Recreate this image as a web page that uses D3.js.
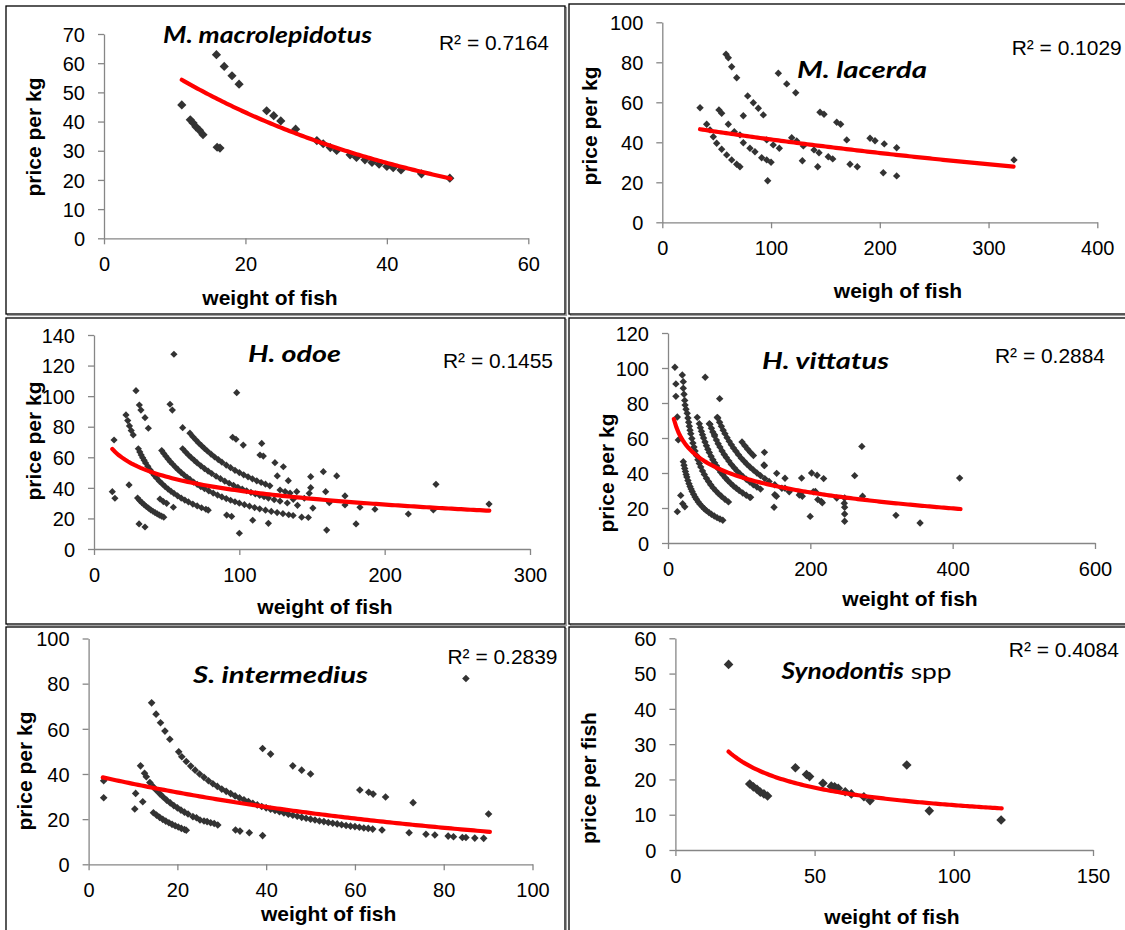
<!DOCTYPE html>
<html><head><meta charset="utf-8">
<script src="https://cdn.jsdelivr.net/npm/d3@7"></script>
<style>body{margin:0;background:#fff}svg{display:block}</style>
</head><body><svg id="chart" width="1125" height="930"></svg>
<script>
// ---------------- DATA ----------------
const macrolepidotusData = [[11.0,45.7],[12.2,40.6],[12.6,39.5],[13.0,38.2],[13.5,37.0],[14.0,35.5],[15.9,62.9],[16.0,31.2],[16.4,30.9],[17.0,58.9],[18.1,55.7],[19.1,52.8],[23.0,43.7],[24.0,42.0],[25.0,40.2],[27.1,37.4],[30.1,33.5],[31.0,32.4],[32.0,31.1],[32.9,30.1],[34.8,28.6],[35.7,27.7],[36.9,26.9],[37.9,26.0],[38.9,25.4],[40.0,24.6],[40.9,24.2],[42.0,23.4],[44.9,22.1],[48.9,20.6]];
const macrolepidotusTrend = {type:"exp", a:72.0, b:-0.02563, x0:11, x1:49};

const lacerdaData = [[34.7,57.3],[40.8,49],[43.9,46.2],[46.9,42.8],[50,39.5],[54.6,36.5],[59.2,33.7],[63.8,31.2],[68.4,29],[71.4,27.8],[52.1,56.2],[54.6,54.5],[58.6,84],[60.7,82.3],[63.8,77.8],[68.4,72.3],[60.7,49],[66.2,45.3],[71.4,43.7],[74.5,39.8],[80.6,37],[85.2,35.3],[74.5,53.3],[78.5,63.2],[83.7,59.8],[88.3,57],[92.9,53.7],[91.4,32.3],[96,31.2],[100,30],[96,41.2],[102,38.7],[107.6,37],[96.9,20.8],[106.7,74.5],[114.4,69.2],[122.7,64.8],[119,42.3],[123.6,40.7],[129.7,38.2],[128.8,30.8],[139.5,36.2],[144.1,34.8],[142.9,27.8],[145,55],[148.7,54],[152.6,32.8],[156.7,31.7],[160.4,50],[164,49],[169.6,41.2],[172.6,29],[179.3,27.8],[191,42],[195.6,40.8],[204.1,39.2],[203.2,24.8],[215.5,37.3],[215.5,23.2],[323.4,31.2]];
const lacerdaTrend = {type:"exp", a:49.5, b:-0.001782, x0:34.7, x1:323};

const odoeData = [[13.8,71.3],[12.6,37.5],[14.4,33.2],[24.1,41.9],[28.9,103.6],[55.0,127.4],[98.2,102.3],[31.0,16.4],[35.1,14.4],
[45.4,32.7],[47.7,31.0],[50.0,29.9],[54.6,27.3],
[30,33.3],[31.5,31.7],[33,30.3],[34.5,29.0],[36,27.8],[37.5,26.7],[39,25.6],[40.5,24.7],[42,23.8],[43.5,23.0],[45,22.2],[46.5,21.5],[48,20.8],
[22.0,87.7],[23.2,84.0],[24.4,80.5],[25.6,77.5],[27.0,74.6],
[30.5,65.6],[31.5,63.5],[32.5,61.5],[33.5,59.7],[34.5,58.0],[35.5,56.3],[37,54.1],[38.5,51.9],[40,50.0],[41.5,48.2],[43,46.5],[45,44.4],[47,42.6],[49,40.8],[51,39.2],[53,37.7],[55,36.4],[57.5,34.8],[60,33.3],[62.5,32.0],[65,30.8],[68,29.4],[71,28.2],[74,27.0],[77,26.0],[78.6,25.4],
[91.3,22.2],[94.7,21.3],[109.2,18.8],[120,16.8],
[31.2,94.2],[32.3,90.9],[35.1,85.9],[37.4,79.0],
[46.6,64.4],[48,62.5],[49.5,60.6],[51,58.8],[52.5,57.1],[54,55.6],[56,53.6],[58,51.7],[60,50.0],[62,48.4],[64,46.9],[66,45.5],[68.5,43.8],[71,42.3],[73.5,40.8],[76,39.5],[79,38.0],[82,36.6],[85,35.3],[88,34.1],[91,33.0],[94,31.9],[97,30.9],[100,30.0],[103.5,29.0],[107,28.0],[110.5,27.1],[114,26.3],[118,25.4],[122,24.6],[126,23.8],[130,23.1],[134,22.4],[137,21.9],
[142.9,20.8],[147.5,20.6],
[61,65.6],[63,63.5],[65,61.5],[67,59.7],[69,58.0],[71,56.3],[73.5,54.4],[76,52.6],[78.5,51.0],[81,49.4],[84,47.6],[87,46.0],[90,44.4],[93,43.0],[96,41.7],[99,40.4],[102,39.2],[105,38.1],[108,37.0],[111,36.0],[114,35.1],[117,34.2],[120,33.3],[124,32.3],[128,31.3],[133,30.1],[140,28.6],[150.6,26.8],
[52.3,94.7],[53.9,90.9],[61,79.4],
[66,75.8],[68,73.5],[70,71.4],[72,69.4],[74,67.6],[76,65.8],[78,64.1],[80.5,62.1],[83,60.2],[85.5,58.5],[88,56.8],[91,54.9],[94,53.2],[97,51.5],[100,50.0],[103,48.5],[106,47.2],[109,45.9],[112,44.6],[115,43.5],[118,42.4],[121,41.3],[128,38.6],[131.5,37.6],[134.9,36.6],
[95.4,73.1],[97.7,71.8],[102.7,68.0],[114.2,61.5],[116.5,60.8],[124.5,56.5],[130.3,53.8],
[115.4,69.1],[126.1,47.8],[133.7,44.7],[149.1,47.3],[149.1,40.1],[148.1,36.4],[139.5,37.5],[137.1,32.5],[144.7,33.2],[157.8,50.6],[159.4,37.5],[160.1,12.4],[161.9,30.3],[167,47.8],[172.7,34.7],[172.7,28.8],[180.3,16.4],[183,27.3],[193.3,26.0],[216.3,22.9],[233.5,25.5],[235.3,42.3],[271.8,29.4],[100,10.3]];
const odoeTrend = {type:"log", a:98.6, b:-13.12, x0:12.6, x1:272};

const vittatusData = [[9.7,100.4],[11.1,90.9],[11.1,83.8],[13.1,72.0],[14.5,58.9],[13.1,17.9],[17.9,27.2],[20.6,22.5],[23.6,20.7],
[20.1,96.0],[21.5,92.2],[21.5,88.4],[22.5,85.0],[23.5,81.5],[24,78.8],[25.3,76.4],
[52.3,94.7],[41.1,71.8],[72.6,82.5],[69.2,71.8],[58.1,68.2],[65.3,61.9],
[21.5,46.5],[22.5,44.4],[23.5,42.6],[24.5,40.8],[25.5,39.2],[26.5,37.7],[28,35.7],[29.5,33.9],[31,32.3],[32.5,30.8],[34,29.4],[36,27.8],[38,26.3],[40,25.0],[42.5,23.5],[45,22.2],[48,20.8],[51,19.6],[54,18.5],[57.5,17.4],[61,16.4],[65,15.4],[69,14.5],[73,13.7],[77,13.0],
[27,74.1],[28,71.4],[29,69.0],[30,66.7],[31,64.5],[32,62.5],[33.5,59.7],[35,57.1],[36.5,54.8],[38,52.6],[40,50.0],[42,47.6],[44,45.5],[46,43.5],[48.5,41.2],[51,39.2],[54,37.0],[57,35.1],[60,33.3],[63.5,31.5],[67,29.9],[71,28.2],[75,26.7],[80,25.0],[85,23.5],
[44,68.2],[45.5,65.9],[47,63.8],[48.5,61.9],[50,60.0],[52,57.7],[54,55.6],[56,53.6],[58,51.7],[60.5,49.6],[63,47.6],[65.5,45.8],[68,44.1],[71,42.3],[74,40.5],[77,39.0],[80.5,37.3],[84,35.7],[88,34.1],[92,32.6],[96,31.3],[100,30.0],[105,28.6],[110,27.3],[115,26.1],
[59,67.8],[61,65.6],[63,63.5],[65.5,61.1],[68,58.8],[70.5,56.7],[73,54.8],[76,52.6],[79,50.6],[82,48.8],[85.5,46.8],[89,44.9],[93,43.0],[97,41.2],[101,39.6],[105.5,37.9],[110,36.4],[115,34.8],[120,33.3],[125,32.0],[130,30.8],
[70,71.4],[72.5,69.0],[75,66.7],[77.5,64.5],[80,62.5],[83,60.2],[86,58.1],[89,56.2],[92,54.3],[95.5,52.4],[99,50.5],[103,48.5],[107,46.7],[111,45.0],[115.5,43.3],[120,41.7],[125,40.0],[130,38.5],[136,36.8],[142,35.2],[150,33.3],[160,31.3],
[104,57.7],[108,55.6],[112,53.6],[116,51.7],[120,50.0],[134.9,44.6],[152.7,39.8],[164.4,37.0],[135.5,51.8],
[135.5,44.2],[187.7,37.1],[201.8,40.0],[209.5,38.7],[218.7,36.8],[262.3,38.5],[272.4,55.2],[409.8,37.1],[199.8,15.2],[320.3,15.8],[354.2,11.4],[248.2,20.4],[248.2,16.6],[248.2,12.4],[248.2,25.7],[247.7,22.7],[237.1,25.7],[273.4,26.7],[210.5,24.8],[215.3,23.8],[207.1,29.5],[186.3,28.6],[188.7,26.7],[150.0,27.6],[152.4,26.7],[149.0,20.4],[116.1,26.1],[164.4,31.3],[170.4,29.3],[184.5,27.4],[204.2,29.3],[216.8,23.0]];
const vittatusTrend = {type:"log", a:98.5, b:-13.14, x0:8.2, x1:411};

const intermediusData = [[3.4,37.0],[3.4,29.5],[10.6,31.4],[10.4,24.5],[12.2,27.7],[39.2,51.3],[41.0,48.8],[46.0,43.6],[48.0,41.7],[50.0,40.0],[61.1,32.9],[63.1,31.9],[64.1,31.1],[66.9,29.8],[73.1,27.3],[85.0,82.3],[90.1,22.3],
[11.7,43.6],[12.6,40.3],[13.0,38.8],[13.8,36.2],[14.5,34.5],[15.2,32.9],[16,31.3],[16.8,29.8],[17.6,28.4],[18.4,27.2],[19.2,26.0],[20,25.0],[20.8,24.0],[21.6,23.1],[22.4,22.3],[23.5,21.1],[24.3,20.6],[25.1,19.6],[26,19.2],[26.7,18.9],[27.5,18.4],[28.3,18.1],[29.1,17.4],[33.1,15.2],[34.1,14.7],[36.2,14.0],[39.2,12.7],
[14.6,22.8],[15.3,21.8],[16,20.8],[16.7,19.9],[17.4,19.1],[18.1,18.4],[18.8,17.7],[19.5,17.1],[20.2,16.5],[20.9,15.9],[21.6,15.4],[22,15.1],
[14.2,71.5],[15.2,66.5],[16.2,62.7],[17.2,59.0],[18.3,55.4],[20.3,49.8],
[21,47.6],[22,45.5],[23,43.5],[24,41.7],[25,40.0],[26,38.5],[27,37.0],[28,35.7],[29,34.5],[30,33.3],[31,32.3],[32,31.3],[33,30.3],[34,29.4],[35,28.6],[36,27.8],[37,27.0],[38,26.3],[39,25.6],[40,25.0],[41,24.4],[42,23.8],[43,23.3],[44,22.7],[45,22.2],[46,21.7],[47,21.3],[48,20.8],[49,20.4],[50,20.0],[51,19.6],[52,19.2],[53,18.9],[54,18.5],[55,18.2],[56,17.9],[57,17.5],[58,17.2],[59,16.9],[60,16.7],[61,16.4],[62,16.1],[63,15.9],[64,15.6],
[66.1,15.2],[72.2,14.0],[76,13.3],[78,13.0],[81,12.5],[82.2,12.2],[84.2,11.9],[85,11.9],[87,11.6],[89,11.5]];
const intermediusTrend = {type:"exp", a:39.9, b:-0.01128, x0:3.2, x1:90.4};

const synodontisData = [[19.1,52.6],[26.7,18.7],[28.0,17.9],[29.3,17.2],[30.5,16.4],[31.8,15.9],[33.1,15.3],[43.1,23.3],[47.1,21.4],[48.2,20.8],[53.0,18.9],[56.0,18.1],[57.2,17.9],[58.5,17.5],[61.0,16.5],[63.2,15.9],[67.7,15.1],[69.9,14.0],[83.1,24.1],[91.2,11.1],[117.0,8.5]];
const synodontisTrend = {type:"power", a:113.0, b:-0.4743, x0:19.1, x1:117.2};

const macroXTicks = [0,20,40,60], macroYTicks = [0,10,20,30,40,50,60,70];
const lacerdaXTicks = [0,100,200,300,400], lacerdaYTicks = [0,20,40,60,80,100];
const odoeXTicks = [0,100,200,300], odoeYTicks = [0,20,40,60,80,100,120,140];
const vittatusXTicks = [0,200,400,600], vittatusYTicks = [0,20,40,60,80,100,120];
const intermediusXTicks = [0,20,40,60,80,100], intermediusYTicks = [0,20,40,60,80,100];
const synodontisXTicks = [0,50,100,150], synodontisYTicks = [0,10,20,30,40,50,60];

const titles = [["M. macrolepidotus"],["M. lacerda"],["H. odoe"],["H. vittatus"],["S. intermedius"],["Synodontis"," spp"]];
const r2Labels = ["R² = 0.7164","R² = 0.1029","R² = 0.1455","R² = 0.2884","R² = 0.2839","R² = 0.4084"];
const yLabels = ["price per kg","price per kg","price per kg","price per kg","price per kg","price per fish"];
const xLabels = ["weight of fish","weigh of fish","weight of fish","weight of fish","weight of fish","weight of fish"];

// ---------------- LAYOUT ----------------
const panels = [
 {data:macrolepidotusData, trend:macrolepidotusTrend, xt:macroXTicks, yt:macroYTicks,
  frame:[6,6,559,308], xr:[104,528.3], yr:[238.3,34], ms:4.6, title:[163,43,209], r2:[439,50], yl:[41,137], xl:[270,305]},
 {data:lacerdaData, trend:lacerdaTrend, xt:lacerdaXTicks, yt:lacerdaYTicks,
  frame:[569,4,560,310], xr:[662.3,1097.3], yr:[222.3,22.3], ms:3.7, title:[797,78,130], r2:[1011.7,55], yl:[597,126], xl:[898,298]},
 {data:odoeData, trend:odoeTrend, xt:odoeXTicks, yt:odoeYTicks,
  frame:[6,318,559,306], xr:[94,530], yr:[549,335], ms:3.6, title:[248,362,93], r2:[443,368], yl:[41,441], xl:[325,614]},
 {data:vittatusData, trend:vittatusTrend, xt:vittatusXTicks, yt:vittatusYTicks,
  frame:[569,318,560,306], xr:[668,1095], yr:[543,333], ms:3.7, title:[762,369,127], r2:[995,363], yl:[614,473], xl:[910,606]},
 {data:intermediusData, trend:intermediusTrend, xt:intermediusXTicks, yt:intermediusYTicks,
  frame:[6,627,559,310], xr:[88.6,532.5], yr:[864.3,638.5], ms:3.8, title:[193,683,175], r2:[447.5,664], yl:[32,771], xl:[328.6,921]},
 {data:synodontisData, trend:synodontisTrend, xt:synodontisXTicks, yt:synodontisYTicks,
  frame:[569,627,560,310], xr:[675.4,1093], yr:[850,638.3], ms:4.8, title:[781.6,679,170], r2:[1008.8,657], yl:[596,778], xl:[892,924]}
];

function trendValue(t, x){
  if(t.type==="exp") return t.a*Math.exp(t.b*x);
  if(t.type==="log") return t.a + t.b*Math.log(x);
  return t.a*Math.pow(x, t.b);
}

const svg = d3.select("#chart");
svg.append("rect").attr("width",1125).attr("height",930).attr("fill","#fff");
const SANS = "'Liberation Sans', Arial, sans-serif";

panels.forEach((p,i) => {
  const g = svg.append("g");
  const [fx,fy,fw,fh] = p.frame;
  g.append("rect").attr("x",fx+1.5).attr("y",fy+1.5).attr("width",fw).attr("height",fh)
    .attr("fill","none").attr("stroke","#a0a0a0").attr("stroke-width",1.2);
  g.append("rect").attr("x",fx).attr("y",fy).attr("width",fw).attr("height",fh)
    .attr("fill","#fff").attr("stroke","#000").attr("stroke-width",1.3);

  const xd = [p.xt[0], p.xt[p.xt.length-1]], yd = [p.yt[0], p.yt[p.yt.length-1]];
  const x = d3.scaleLinear().domain(xd).range(p.xr);
  const y = d3.scaleLinear().domain(yd).range(p.yr);

  const xAxis = g.append("g").attr("transform",`translate(0,${p.yr[0]})`)
    .call(d3.axisBottom(x).tickValues(p.xt).tickSize(6).tickSizeOuter(0));
  const yAxis = g.append("g").attr("transform",`translate(${p.xr[0]},0)`)
    .call(d3.axisLeft(y).tickValues(p.yt).tickSize(6).tickSizeOuter(0));
  [xAxis,yAxis].forEach(a => {
    a.attr("font-size",null).attr("font-family",null);
    a.select(".domain").attr("stroke","#868686").attr("stroke-width",1.3);
    a.selectAll(".tick line").attr("stroke","#868686").attr("stroke-width",1.3);
    a.selectAll(".tick text").attr("font-family",SANS).attr("font-size",20).attr("fill","#000");
  });
  xAxis.selectAll(".tick text").attr("y",33).attr("dy",0);
  yAxis.selectAll(".tick text").attr("x",-19).attr("dy","0.36em");

  // markers
  const h = p.ms;
  g.append("g").selectAll("path").data(p.data).join("path")
    .attr("d",`M0,${-h}L${h},0L0,${h}L${-h},0Z`)
    .attr("transform",d=>`translate(${x(d[0])},${y(d[1])})`)
    .attr("fill","#333333");

  // trendline
  const t = p.trend;
  const xs = d3.range(0,121).map(k => t.x0 + (t.x1-t.x0)*k/120);
  g.append("path").datum(xs)
    .attr("d", d3.line().x(v=>x(v)).y(v=>y(trendValue(t,v))))
    .attr("fill","none").attr("stroke","#ff0000").attr("stroke-width",4.2).attr("stroke-linecap","round");

  // title
  const tt = g.append("text").attr("x",p.title[0]).attr("y",p.title[1])
    .attr("font-family","Lato, 'Open Sans', sans-serif").attr("font-size",22)
    .attr("textLength",p.title[2]).attr("lengthAdjust","spacingAndGlyphs").attr("fill","#000");
  titles[i].forEach((s,k) => {
    tt.append("tspan").text(s)
      .attr("font-weight", k===0 ? "bold" : "normal")
      .attr("font-style", k===0 ? "italic" : "normal");
  });

  // R²
  g.append("text").attr("x",p.r2[0]).attr("y",p.r2[1]).text(r2Labels[i])
    .attr("font-family",SANS).attr("font-size",21).attr("fill","#000")
    .attr("textLength",110).attr("lengthAdjust","spacingAndGlyphs");

  // axis titles
  g.append("text").attr("transform",`translate(${p.yl[0]},${p.yl[1]}) rotate(-90)`)
    .attr("text-anchor","middle").text(yLabels[i])
    .attr("font-family",SANS).attr("font-size",21).attr("font-weight","bold").attr("fill","#000");
  g.append("text").attr("x",p.xl[0]).attr("y",p.xl[1]).attr("text-anchor","middle").text(xLabels[i])
    .attr("font-family",SANS).attr("font-size",21).attr("font-weight","bold").attr("fill","#000");
});
</script>
</body></html>
